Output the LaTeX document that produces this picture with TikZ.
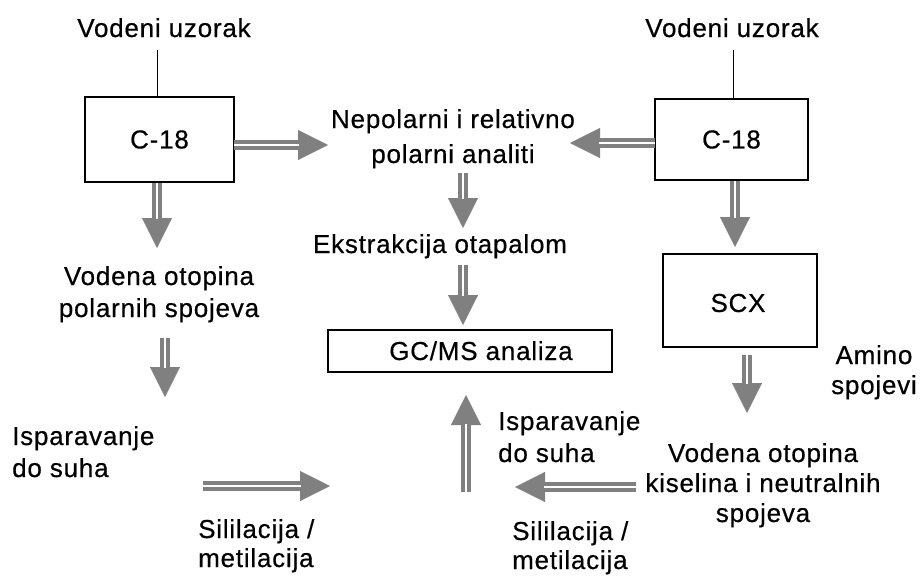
\documentclass[tikz,border=0pt]{standalone}
\usepackage{fontspec}
\setmainfont{Liberation Sans}[LetterSpace=3,FakeBold=0.5]
\usetikzlibrary{arrows.meta}
\definecolor{arrowgray}{RGB}{128,128,128}
\tikzset{
  txt/.style={font=\fontsize{26}{32}\selectfont, inner sep=0pt, align=center},
  boxnode/.style={draw=black, line width=1.4pt, inner sep=0pt},
  headline/.style={draw=arrowgray, fill=arrowgray, line width=0.3pt, -{Triangle[length=30pt,width=30pt]}},
  shaftline/.style={draw=arrowgray, line width=3.9pt, double=white, double distance=1.3pt, shorten >=29pt},
  thinline/.style={draw=black, line width=1pt}
}
\newcommand\blockarrow[2]{\draw[headline] (#1) -- (#2); \draw[shaftline] (#1) -- (#2);}
\begin{document}
\begin{tikzpicture}[x=1pt,y=-1pt]
\useasboundingbox (0,0) rectangle (921,576);
% boxes
\node[boxnode, minimum width=149pt, minimum height=85pt] (c18L) at (159.5,139.5) {};
\node[txt] at (c18L) {C-18};
\node[boxnode, minimum width=153pt, minimum height=81pt] (c18R) at (731.5,139.5) {};
\node[txt] at (c18R) {C-18};
\node[boxnode, minimum width=154pt, minimum height=93pt] (scx) at (740,300.5) {};
\node[txt] at (738,303) {SCX};
\node[boxnode, minimum width=284pt, minimum height=42pt] (gc) at (470,351) {};
\node[txt, anchor=base] at (481,360) {GC/MS analiza};
% texts (base anchor = baseline of last line)
\node[txt, anchor=base] (vuL) at (164,37) {Vodeni uzorak};
\node[txt, anchor=base] (vuR) at (732,37) {Vodeni uzorak};
\node[txt, anchor=base] (nep) at (453,163) {Nepolarni i relativno\\[3pt]polarni analiti};
\node[txt, anchor=base] (ekst) at (440,253) {Ekstrakcija otapalom};
\node[txt, anchor=base] (vopL) at (159,317) {Vodena otopina\\polarnih spojeva};
\node[txt, anchor=base west, align=left] (ispL) at (12,477) {Isparavanje\\do suha};
\node[txt, anchor=base west, align=left] (silL) at (198,567) {Sililacija /\\[-3pt]metilacija};
\node[txt, anchor=base west, align=left] (ispR) at (498,462) {Isparavanje\\do suha};
\node[txt, anchor=base west, align=left] (silR) at (512,569) {Sililacija /\\[-3pt]metilacija};
\node[txt, anchor=base] (vopR) at (763,522) {Vodena otopina\\[-2pt]kiselina i neutralnih\\[-2pt]spojeva};
\node[txt, anchor=base] (amino) at (874,394) {Amino\\[-2pt]spojevi};
% thin lines
\draw[thinline] (157,50) -- (c18L.north -| 157,0);
\draw[thinline] (733,50) -- (c18R.north -| 733,0);
% arrow coordinates
\coordinate (a1s) at (234,145); \coordinate (a1e) at (328,145);
\coordinate (a2s) at (655,143); \coordinate (a2e) at (570,143);
\coordinate (a3s) at (157,183); \coordinate (a3e) at (157,248);
\coordinate (a4s) at (463,173); \coordinate (a4e) at (463,228);
\coordinate (a5s) at (463,265); \coordinate (a5e) at (463,325);
\coordinate (a6s) at (735,181); \coordinate (a6e) at (735,247);
\coordinate (a7s) at (165,338); \coordinate (a7e) at (165,397);
\coordinate (a8s) at (747,355); \coordinate (a8e) at (747,413);
\coordinate (a9s) at (203,486); \coordinate (a9e) at (330,486);
\coordinate (a10s) at (466,492); \coordinate (a10e) at (466,395);
\coordinate (a11s) at (636,487); \coordinate (a11e) at (515,487);
\blockarrow{a1s}{a1e}
\blockarrow{a2s}{a2e}
\blockarrow{a3s}{a3e}
\blockarrow{a4s}{a4e}
\blockarrow{a5s}{a5e}
\blockarrow{a6s}{a6e}
\blockarrow{a7s}{a7e}
\blockarrow{a8s}{a8e}
\blockarrow{a9s}{a9e}
\blockarrow{a10s}{a10e}
\blockarrow{a11s}{a11e}
\end{tikzpicture}
\end{document}
